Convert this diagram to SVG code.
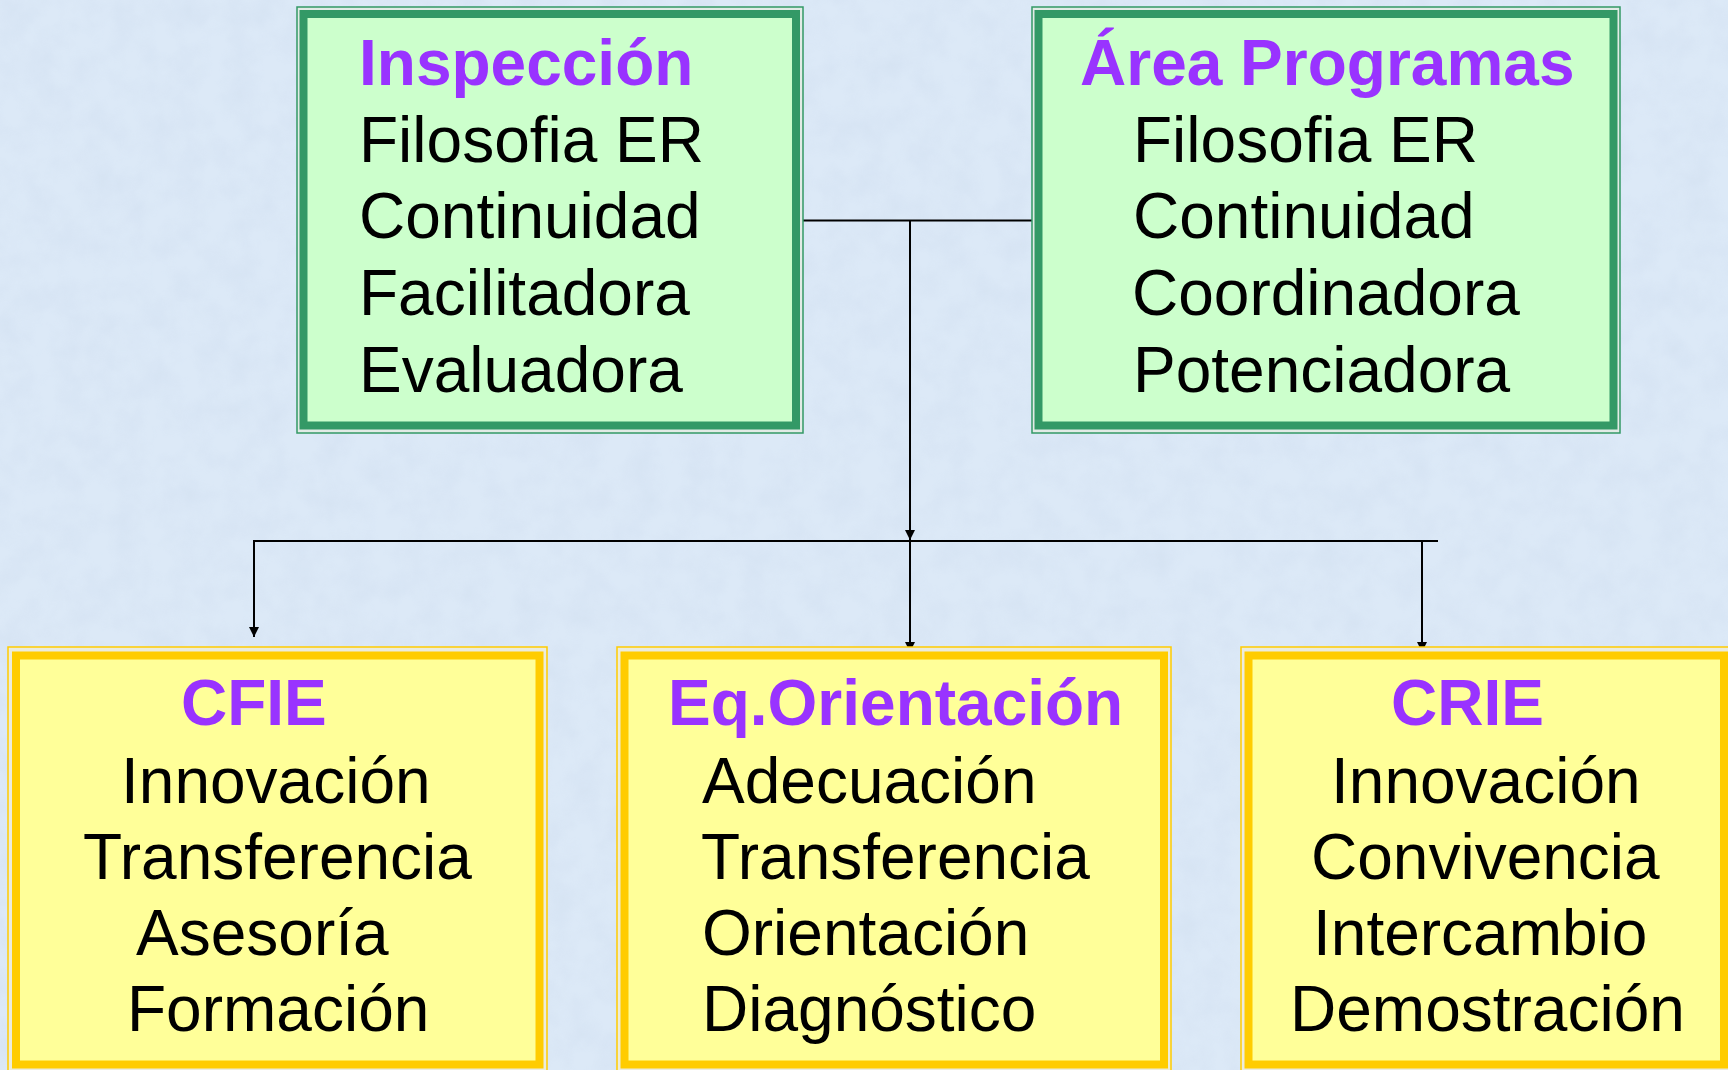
<svg xmlns="http://www.w3.org/2000/svg" width="1728" height="1070" viewBox="0 0 1728 1070">
  <defs>
    <filter id="tex" x="0" y="0" width="100%" height="100%">
      <feTurbulence type="fractalNoise" baseFrequency="0.035" numOctaves="3" seed="4" result="n"/>
      <feColorMatrix in="n" type="matrix" values="0 0 0 0 0.55  0 0 0 0 0.65  0 0 0 0 0.8  0 0 0 -1.1 0.75"/>
    </filter>
    <marker id="arr" markerUnits="userSpaceOnUse" markerWidth="12" markerHeight="12" refX="10" refY="5" orient="auto">
      <path d="M0,0 L10,5 L0,10 Z" fill="#000"/>
    </marker>
    <style>
      .t { font-family: "Liberation Sans", Arial, sans-serif; font-size: 64px; fill: #000; }
      .h { font-family: "Liberation Sans", Arial, sans-serif; font-size: 64px; font-weight: bold; fill: #9933ff; }
      .gOut { fill: #e2ebe6; stroke: #339966; stroke-width: 1.5; }
      .gIn { fill: #ccffcc; stroke: #339966; stroke-width: 8; }
      .yOut { fill: #ececdc; stroke: #ffcc00; stroke-width: 1.5; }
      .yIn { fill: #ffff99; stroke: #ffcc00; stroke-width: 8; }
      .c { fill: none; stroke: #000; stroke-width: 2; }
    </style>
  </defs>

  <rect x="0" y="0" width="1728" height="1070" fill="#dce9f7"/>
  <rect x="0" y="0" width="1728" height="1070" filter="url(#tex)" opacity="0.35"/>

  <g id="connectors">
    <line class="c" x1="796" y1="220.5" x2="1038" y2="220.5"/>
    <line class="c" x1="910" y1="220.5" x2="910" y2="540" marker-end="url(#arr)"/>
    <line class="c" x1="253" y1="541" x2="1438" y2="541"/>
    <line class="c" x1="254" y1="540" x2="254" y2="637" marker-end="url(#arr)"/>
    <line class="c" x1="910" y1="541" x2="910" y2="652" marker-end="url(#arr)"/>
    <line class="c" x1="1422" y1="541" x2="1422" y2="652" marker-end="url(#arr)"/>
  </g>

  <g id="inspeccion">
    <rect class="gOut" x="297" y="7" width="506" height="426"/>
    <rect class="gIn" x="303.5" y="14" width="492.5" height="411.5"/>
    <text class="h" x="359" y="85">Inspección</text>
    <text class="t" x="359" y="162">Filosofia ER</text>
    <text class="t" x="359" y="238">Continuidad</text>
    <text class="t" x="359" y="315">Facilitadora</text>
    <text class="t" x="359" y="392">Evaluadora</text>
  </g>

  <g id="area-programas">
    <rect class="gOut" x="1032" y="7" width="588" height="426"/>
    <rect class="gIn" x="1038.5" y="14" width="575" height="411.5"/>
    <text class="h" x="1080" y="85">Área Programas</text>
    <text class="t" x="1133" y="162">Filosofia ER</text>
    <text class="t" x="1133" y="238">Continuidad</text>
    <text class="t" x="1132" y="315">Coordinadora</text>
    <text class="t" x="1133" y="392">Potenciadora</text>
  </g>

  <g id="cfie">
    <rect class="yOut" x="8" y="647" width="539" height="425"/>
    <rect class="yIn" x="16" y="655.5" width="523.5" height="409"/>
    <text class="h" x="181" y="725">CFIE</text>
    <text class="t" x="121" y="803">Innovación</text>
    <text class="t" x="83" y="879">Transferencia</text>
    <text class="t" x="136" y="955">Asesoría</text>
    <text class="t" x="127" y="1031">Formación</text>
  </g>

  <g id="eq-orientacion">
    <rect class="yOut" x="617" y="647" width="554" height="425"/>
    <rect class="yIn" x="624.5" y="655.5" width="539.5" height="409"/>
    <text class="h" x="668" y="725">Eq.Orientación</text>
    <text class="t" x="702" y="803">Adecuación</text>
    <text class="t" x="701" y="879">Transferencia</text>
    <text class="t" x="702" y="955">Orientación</text>
    <text class="t" x="702" y="1031">Diagnóstico</text>
  </g>

  <g id="crie">
    <rect class="yOut" x="1241" y="647" width="490" height="425"/>
    <rect class="yIn" x="1248.5" y="655.5" width="475.5" height="409"/>
    <text class="h" x="1391" y="725">CRIE</text>
    <text class="t" x="1331" y="803">Innovación</text>
    <text class="t" x="1311" y="879">Convivencia</text>
    <text class="t" x="1313" y="955">Intercambio</text>
    <text class="t" x="1290" y="1031">Demostración</text>
  </g>
</svg>
